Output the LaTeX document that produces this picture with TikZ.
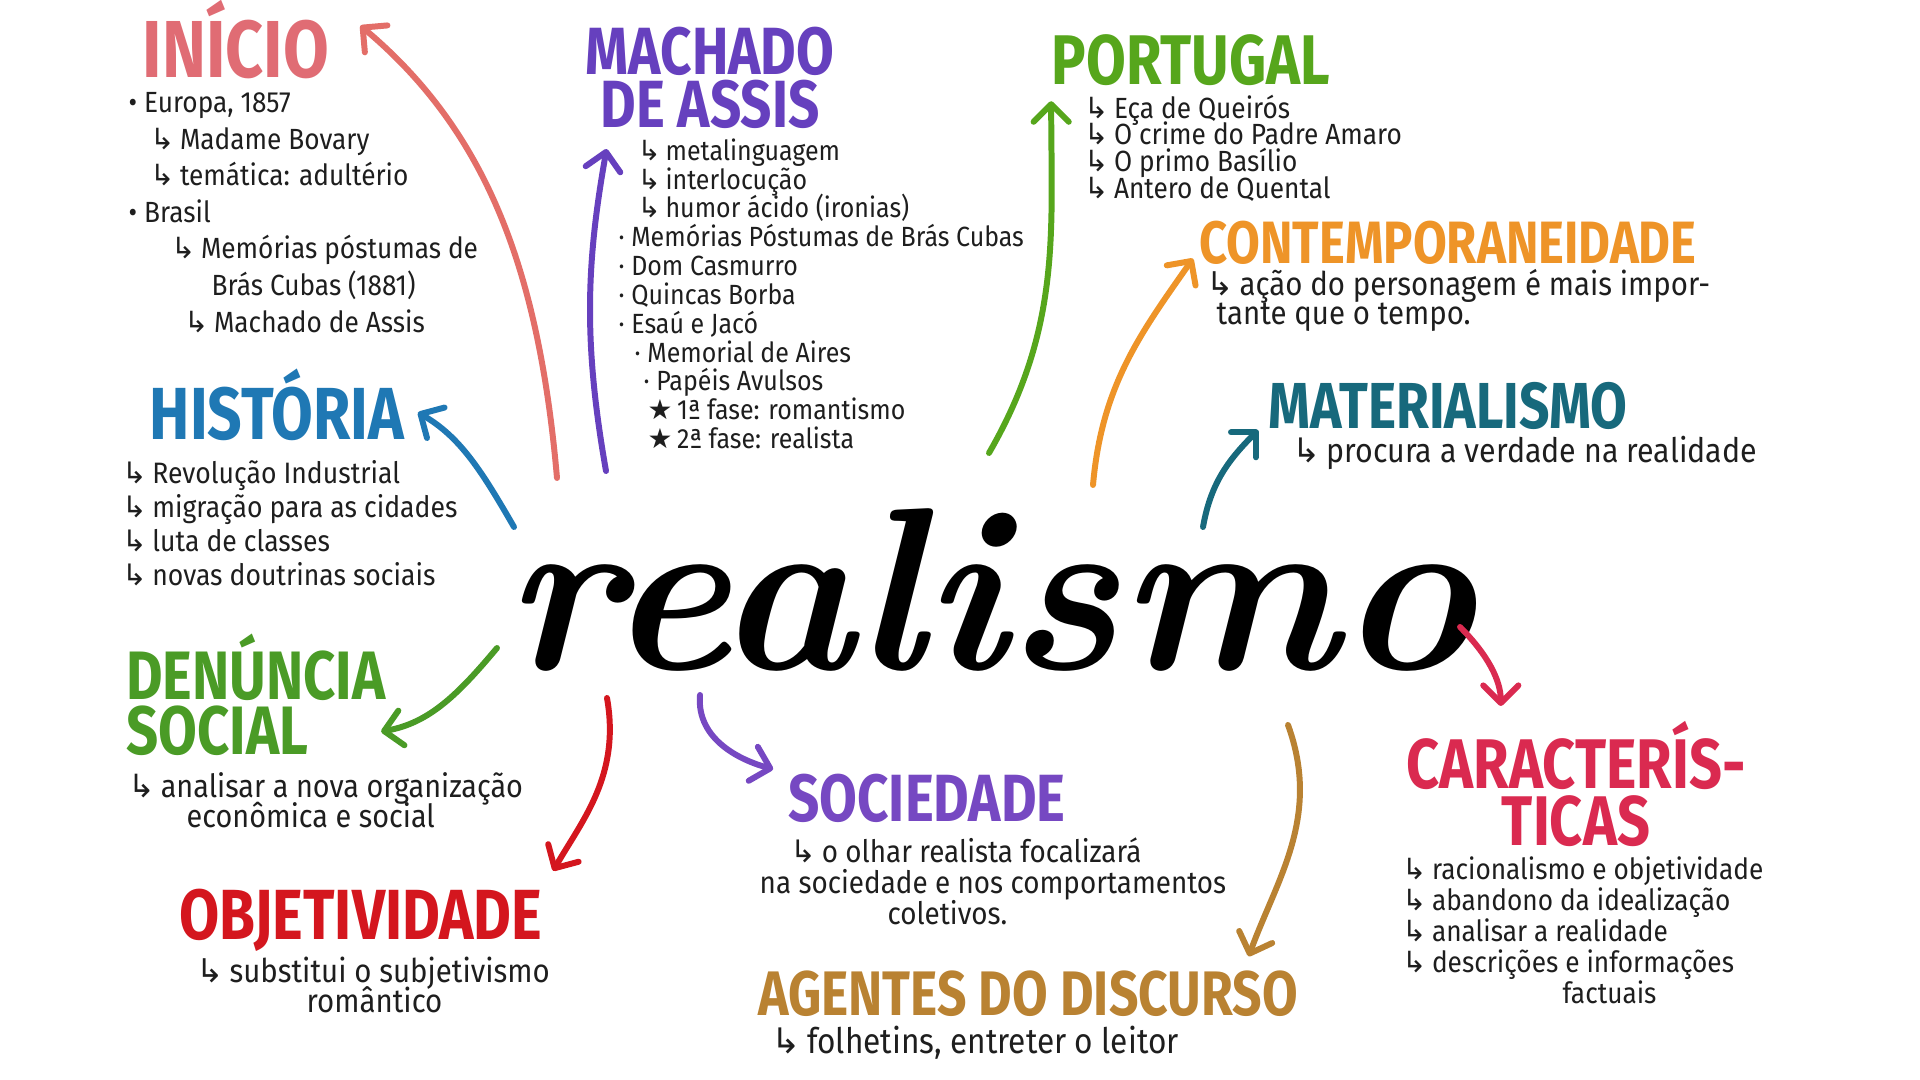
\documentclass[tikz,border=0pt]{standalone}
\usepackage{fontspec}
\setsansfont{Fira Sans}
\newfontfamily\headfont[FakeStretch=0.82]{Fira Sans}
\newfontfamily\bodyfont[FakeStretch=0.9]{Fira Sans}
\newfontfamily\symfont{DejaVu Sans}
\usepackage{tikz}
\usetikzlibrary{positioning, arrows.meta}
\definecolor{iniciored}{HTML}{E06C74}
\definecolor{machadopurple}{HTML}{6640BE}
\definecolor{portugalgreen}{HTML}{56A61C}
\definecolor{contemporange}{HTML}{EE9428}
\definecolor{materialteal}{HTML}{17697C}
\definecolor{historiablue}{HTML}{1F78B4}
\definecolor{denunciagreen}{HTML}{4A9B26}
\definecolor{objetivred}{HTML}{D4161E}
\definecolor{sociedadepurple}{HTML}{7648C2}
\definecolor{agentesbrown}{HTML}{B98232}
\definecolor{caractred}{HTML}{DA2A50}
\definecolor{inkgray}{HTML}{1E1E1E}
\newcommand{\hk}{{\symfont ↳}\,}
\newcommand{\strmark}{{\symfont ★}\,}
\newcommand{\tightlines}{\setlength{\lineskiplimit}{-10pt}}

\begin{document}
\begin{tikzpicture}[
  heading/.style={
    font=\headfont\bfseries\fontsize{#1}{#1}\selectfont,
    inner sep=0pt, align=center
  },
  body/.style 2 args={
    font=\bodyfont\fontsize{#1}{#2}\selectfont\tightlines,
    text=inkgray, align=left, inner sep=0pt, anchor=north west
  },
  arr/.style={-{Straight Barb[length=5pt, width=10pt, round]}, line width=1.7pt, line cap=round}
]
\useasboundingbox (0,0) rectangle (19.2,10.8);
\fill[white] (0,0) rectangle (19.2,10.8);

% ---- Centre ----
\node[anchor=base, font=\rmfamily\bfseries\itshape\fontsize{66}{66}\selectfont] (realismo) at (9.90, 4.10) {realismo};

% ---- Início ----
\node[heading=23, text=iniciored] (inicio) at (2.36, 10.40) {INÍCIO};
\node[body={8.3}{10.4}] (iniciotxt) at (1.28, 9.88) {
  \textbullet\ Europa, 1857\\
  \hspace*{2.2mm}\hk Madame Bovary\\
  \hspace*{2.2mm}\hk temática: adultério\\
  \textbullet\ Brasil\\
  \hspace*{4.3mm}\hk Memórias póstumas de\\
  \hspace*{8.3mm}Brás Cubas (1881)\\
  \hspace*{5.6mm}\hk Machado de Assis
};

% ---- Machado de Assis ----
\node[heading=19, text=machadopurple] (machado) at (7.10, 10.02) {MACHADO\\[-4pt]DE ASSIS};
\node[body={7.9}{8.2}] (machadotxt) at (6.18, 9.42) {
  \hspace*{1.9mm}\hk metalinguagem\\
  \hspace*{1.9mm}\hk interlocução\\
  \hspace*{1.9mm}\hk humor ácido (ironias)\\
  · Memórias Póstumas de Brás Cubas\\
  · Dom Casmurro\\
  · Quincas Borba\\
  · Esaú e Jacó\\
  \hspace*{1.6mm}· Memorial de Aires\\
  \hspace*{2.5mm}· Papéis Avulsos\\
  \hspace*{2.9mm}\strmark 1ª fase: romantismo\\
  \hspace*{2.9mm}\strmark 2ª fase: realista
};

% ---- Portugal ----
\node[heading=20, text=portugalgreen] (portugal) at (11.91, 10.20) {PORTUGAL};
\node[body={8.3}{7.6}] (portugaltxt) at (10.84, 9.86) {
  \hk Eça de Queirós\\
  \hk O crime do Padre Amaro\\
  \hk O primo Basílio\\
  \hk Antero de Quental
};

% ---- Contemporaneidade ----
\node[heading=17, text=contemporange] (contemp) at (14.48, 8.37) {CONTEMPORANEIDADE};
\node[body={9.3}{8.2}] (contemptxt) at (12.06, 8.11) {
  \hk ação do personagem é mais impor-\\
  \hspace*{1mm}tante que o tempo.
};

% ---- Materialismo ----
\node[heading=18.5, text=materialteal] (material) at (14.48, 6.74) {MATERIALISMO};
\node[body={9.6}{10}] (materialtxt) at (12.92, 6.45) {
  \hk procura a verdade na realidade
};

% ---- História ----
\node[heading=21, text=historiablue] (historia) at (2.77, 6.75) {HISTÓRIA};
\node[body={8.4}{9.7}] (historiatxt) at (1.22, 6.20) {
  \hk Revolução Industrial\\
  \hk migração para as cidades\\
  \hk luta de classes\\
  \hk novas doutrinas sociais
};

% ---- Denúncia social ----
\node[heading=19.5, text=denunciagreen, align=left] (denuncia) at (2.56, 3.85) {DENÚNCIA\\[-4pt]SOCIAL};
\node[body={9.1}{8.6}] (denunciatxt) at (1.28, 3.08) {
  \hk analisar a nova organização\\
  \hspace*{5.8mm}econômica e social
};

% ---- Objetividade ----
\node[heading=20.2, text=objetivred] (objetiv) at (3.61, 1.60) {OBJETIVIDADE};
\node[body={9.3}{8.6}] (objetivtxt) at (1.96, 1.24) {
  \hk substitui o subjetivismo\\
  \hspace*{11mm}romântico
};

% ---- Sociedade ----
\node[heading=19, text=sociedadepurple] (sociedade) at (9.27, 2.82) {SOCIEDADE};
\node[body={8.8}{8.8}] (sociedadetxt) at (7.59, 2.43) {
  \hspace*{3.1mm}\hk o olhar realista focalizará\\
  na sociedade e nos comportamentos\\
  \hspace*{12.8mm}coletivos.
};

% ---- Agentes do discurso ----
\node[heading=17.9, text=agentesbrown] (agentes) at (10.28, 0.86) {AGENTES DO DISCURSO};
\node[body={10}{10}] (agentestxt) at (7.71, 0.55) {
  \hk folhetins, entreter o leitor
};

% ---- Características ----
\node[heading=20, text=caractred] (caract) at (15.76, 2.96) {CARACTERÍS-\\[-4pt]TICAS};
\node[body={8.3}{8.8}] (caracttxt) at (14.02, 2.24) {
  \hk racionalismo e objetividade\\
  \hk abandono da idealização\\
  \hk analisar a realidade\\
  \hk descrições e informações\\
  \hspace*{16mm}factuais
};

% Pontos de saída das setas
\coordinate (s1) at (5.57, 6.02);
\coordinate (s2) at (6.06, 6.09);
\coordinate (s3) at (9.89, 6.27);
\coordinate (s4) at (10.93, 5.95);
\coordinate (s5) at (12.03, 5.53);
\coordinate (s6) at (5.14, 5.53);
\coordinate (s7) at (4.97, 4.32);
\coordinate (s8) at (6.07, 3.82);
\coordinate (s9) at (7.00, 3.85);
\coordinate (s10) at (12.88, 3.55);
\coordinate (s11) at (14.60, 4.53);

% Setas
\draw[arr, color=iniciored!90!orange, shorten >=4mm] (s1) to[out=95, in=-40] (inicio.north east);
\draw[arr, color=machadopurple, shorten >=2mm] (s2) to[out=100, in=-100] ([xshift=2.5mm]machado.south west);
\draw[arr, color=portugalgreen, shorten >=1.5mm] (s3) to[out=60, in=-90] (portugal.south west);
\draw[arr, color=contemporange, shorten >=1mm] (s4) to[out=85, in=-125] ([yshift=1.5mm]contemp.south west);
\draw[arr, color=materialteal] (s5) to[out=80, in=-135] ([xshift=-1mm]material.south west);
\draw[arr, color=historiablue, shorten >=1.5mm] (s6) to[out=120, in=-30] (historia.east);
\draw[arr, color=denunciagreen, shorten >=1mm] (s7) to[out=-130, in=10] ([xshift=-1.5mm, yshift=2.3mm]denuncia.south east);
\draw[arr, color=objetivred, shorten >=2mm] (s8) to[out=-80, in=60] (objetiv.north east);
\draw[arr, color=sociedadepurple, shorten >=1.5mm] (s9) to[out=-95, in=165] (sociedade.north west);
\draw[arr, color=agentesbrown, shorten >=1.5mm] (s10) to[out=-70, in=70] ([xshift=-5.5mm]agentes.north east);
\draw[arr, color=caractred, shorten >=1.5mm] (s11) to[out=-45, in=90] ([xshift=9.5mm]caract.north west);

\end{tikzpicture}
\end{document}
